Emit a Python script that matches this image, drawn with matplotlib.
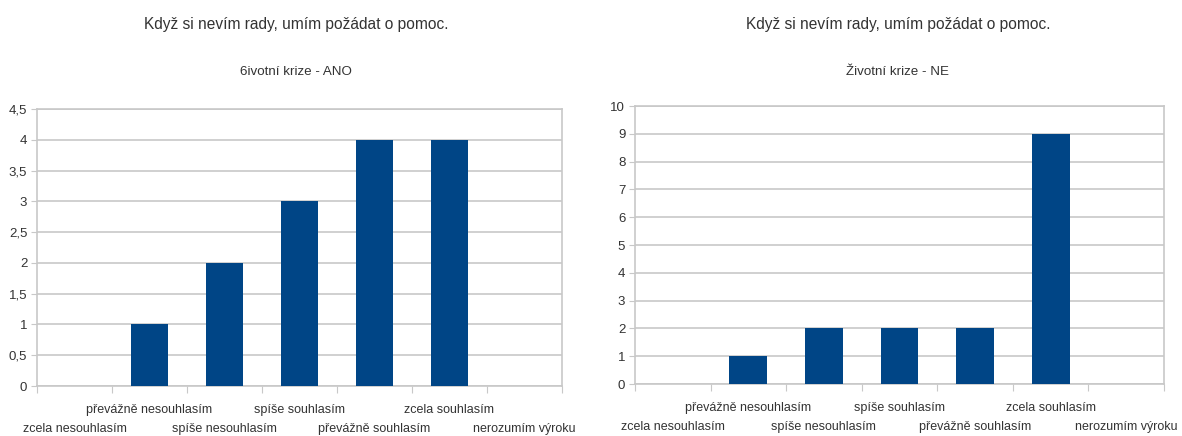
import matplotlib
matplotlib.use("Agg")
import matplotlib.pyplot as plt
from matplotlib import font_manager

# font close to the LibreOffice look (narrow one if present)
names = {f.name for f in font_manager.fontManager.ttflist}
if "Liberation Sans Narrow" in names:
    plt.rcParams['font.family'] = ['Liberation Sans Narrow', 'DejaVu Sans']
    scale = 1.15
else:
    plt.rcParams['font.family'] = ['Liberation Sans', 'DejaVu Sans']
    scale = 1.0

categories = ["zcela nesouhlasím", "převážně nesouhlasím", "spíše nesouhlasím",
              "spíše souhlasím", "převážně souhlasím", "zcela souhlasím",
              "nerozumím výroku"]
ano_values = [0, 1, 2, 3, 4, 4, 0]
ne_values = [0, 1, 2, 2, 2, 9, 0]

main_title = "Když si nevím rady, umím požádat o pomoc."
ano_title = "6ivotní krize - ANO"
ne_title = "Životní krize - NE"

bar_color = "#004586"
grid_color = "#c8c8c8"
text_color = "#333333"

fig = plt.figure(figsize=(11.82, 4.36), dpi=100)
ax1 = fig.add_axes([37/1182, 1-386/436, (562-37)/1182, (386-109)/436])
ax2 = fig.add_axes([635/1182, 1-384/436, (1164-635)/1182, (384-106)/436])


def draw(ax, values, ymax, step, fmt, subtitle, cx):
    x = range(len(categories))
    ax.bar(x, values, width=0.5, color=bar_color, zorder=3)
    ax.set_xlim(-0.5, len(categories) - 0.5)
    ax.set_ylim(0, ymax)
    ticks = [i * step for i in range(int(round(ymax / step)) + 1)]
    ax.set_yticks(ticks)
    ax.set_yticklabels([fmt(t) for t in ticks], fontsize=9.5 * scale, color=text_color)
    ax.yaxis.grid(True, color=grid_color, linewidth=1.2, zorder=0)
    for s in ax.spines.values():
        s.set_color(grid_color)
        s.set_linewidth(1.2)
    ax.tick_params(axis='y', length=4, color=grid_color, pad=3)
    # category boundary ticks
    ax.set_xticks([i - 0.5 for i in range(len(categories) + 1)])
    ax.set_xticklabels([])
    ax.tick_params(axis='x', length=5, color=grid_color)
    # staggered category labels
    for i, c in enumerate(categories):
        yoff = -0.088 if i % 2 == 1 else -0.155
        ax.text(i, yoff, c, transform=ax.get_xaxis_transform(), ha='center',
                va='center', fontsize=9 * scale, color=text_color)
    fig.text(cx, 1 - 25/436, main_title, ha='center', va='center',
             fontsize=11.2 * scale, color=text_color)
    fig.text(cx, 1 - 72/436, subtitle, ha='center', va='center',
             fontsize=9.6 * scale, color=text_color)


draw(ax1, ano_values, 4.5, 0.5,
     lambda t: ("%g" % t).replace(".", ","), ano_title, 296/1182)
draw(ax2, ne_values, 10, 1, lambda t: "%d" % t, ne_title, 898/1182)

plt.savefig("out.png", dpi=100)
